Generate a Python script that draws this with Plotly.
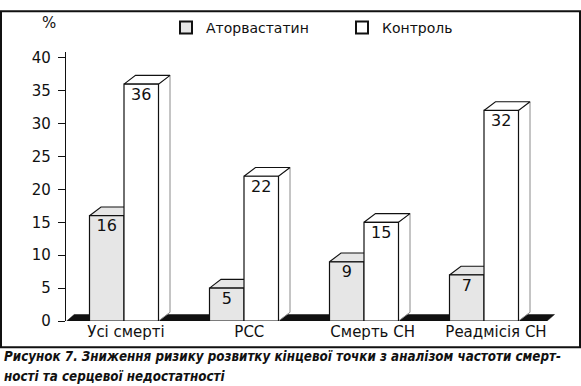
import plotly.graph_objects as go

# ---------------- data ----------------
categories = ["Усі смерті", "РСС", "Смерть СН", "Реадмісія СН"]
atorvastatin = [16, 5, 9, 7]
control = [36, 22, 15, 32]
series_names = ["Аторвастатин", "Контроль"]
y_ticks = [0, 5, 10, 15, 20, 25, 30, 35, 40]
y_label = "%"
caption_lines = [
    "Рисунок 7. Зниження ризику розвитку кінцевої точки з аналізом частоти смерт-",
    "ності та серцевої недостатності",
]

# ---------------- layout / style (pixels) ----------------
W, H = 581, 386
PL, PR, PT, PB = 66, 560, 43, 321          # plot area edges
CAT0_PX, CAT_PX = 124, 120                 # first category centre, spacing
UNIT_PX = 6.8                              # pixels per %
BAR_PX = 34.5                              # bar width
DEPTH_DX_PX, DEPTH_DY_PX = 11.5, 9.0       # bar depth
FLOOR_DX_PX, FLOOR_DY_PX = 7.5, 6.7        # floor depth
FLOOR_END_PX = 547
LABEL_DROP_PX = 12
LAB0_PX, LAB_PX = 126, 123.33              # category label centres

GREY = "#e6e6e6"
WHITE = "#ffffff"
INK = "#111111"
FONT = "DejaVu Sans"

x_range = [(PL - CAT0_PX) / CAT_PX, (PR - CAT0_PX) / CAT_PX]
y_range = [0, (PB - PT) / UNIT_PX]
lab_range = [(PL - LAB0_PX) / LAB_PX, (PR - LAB0_PX) / LAB_PX]

BW = BAR_PX / CAT_PX
DX = DEPTH_DX_PX / CAT_PX
DY = DEPTH_DY_PX / UNIT_PX
FDX = FLOOR_DX_PX / CAT_PX
FDY = FLOOR_DY_PX / UNIT_PX
DROP = LABEL_DROP_PX / UNIT_PX


def px_to_paper_x(px):
    return (px - PL) / (PR - PL)


def px_to_paper_y(py):
    return (PB - py) / (PB - PT)


fig = go.Figure()


def poly(xs, ys, fill, line_color=INK, width=1.1):
    fig.add_trace(go.Scatter(
        x=xs + [xs[0]], y=ys + [ys[0]], mode="lines", fill="toself",
        fillcolor=fill, line=dict(color=line_color, width=width),
        showlegend=False, hoverinfo="skip"))


# floor
fx0 = x_range[0] + 0.7 / CAT_PX
fx1 = (FLOOR_END_PX - CAT0_PX) / CAT_PX
poly([fx0, fx1, fx1 + FDX, fx0 + FDX], [0, 0, FDY, FDY], "#111111", width=0.5)


def bar3d(x0, x1, h, fill):
    # side face
    poly([x1, x1 + DX, x1 + DX, x1], [0, DY, h + DY, h], fill, line_color="#8a8a8a", width=1)
    # top face
    poly([x0, x0 + DX, x1 + DX, x1], [h, h + DY, h + DY, h], fill)
    # front face
    poly([x0, x1, x1, x0], [0, 0, h, h], fill, width=1.2)


for i in range(len(categories)):
    bar3d(i - BW, i, atorvastatin[i], GREY)
    bar3d(i, i + BW, control[i], WHITE)

# value labels
lx, ly, lt = [], [], []
for i in range(len(categories)):
    lx += [i - BW / 2, i + BW / 2]
    ly += [atorvastatin[i] - DROP, control[i] - DROP]
    lt += [str(atorvastatin[i]), str(control[i])]
fig.add_trace(go.Scatter(x=lx, y=ly, text=lt, mode="text",
                         textfont=dict(family=FONT, size=16, color=INK),
                         showlegend=False, hoverinfo="skip"))

# category label axis carrier
fig.add_trace(go.Scatter(x=list(range(len(categories))), y=[0] * len(categories),
                         xaxis="x2", mode="markers", marker=dict(opacity=0),
                         showlegend=False, hoverinfo="skip"))

# legend entries
for name, col in zip(series_names, [GREY, WHITE]):
    fig.add_trace(go.Scatter(x=[None], y=[None], mode="markers", name=name,
                             marker=dict(symbol="square", size=15, color=col,
                                         line=dict(color=INK, width=1))))

fig.update_layout(
    width=W, height=H,
    margin=dict(l=PL, r=W - PR, t=PT, b=H - PB, pad=0),
    paper_bgcolor="white", plot_bgcolor="white",
    font=dict(family=FONT, size=15, color=INK),
    xaxis=dict(range=x_range, showgrid=False, zeroline=False, showline=False,
               showticklabels=False, ticks="", fixedrange=True),
    xaxis2=dict(range=lab_range, overlaying="x", anchor="y", side="bottom",
                tickmode="array", tickvals=list(range(len(categories))),
                ticktext=categories, showgrid=False, zeroline=False,
                showline=False, ticks="", tickfont=dict(family=FONT, size=15, color=INK)),
    yaxis=dict(range=y_range, tickmode="array", tickvals=y_ticks,
               showgrid=False, zeroline=False, showline=True, linecolor=INK,
               linewidth=1.3, ticks="outside", ticklen=7, tickwidth=1.2,
               tickcolor=INK, ticklabelstandoff=4,
               tickfont=dict(family=FONT, size=15, color=INK)),
    legend=dict(orientation="h", x=px_to_paper_x(166), y=px_to_paper_y(18),
                xanchor="left", yanchor="middle", font=dict(family=FONT, size=14, color=INK),
                entrywidth=131, entrywidthmode="pixels", bgcolor="rgba(0,0,0,0)",
                itemsizing="constant"),
    showlegend=True,
)

# "%" label
fig.add_annotation(text=y_label, xref="paper", yref="paper",
                   x=px_to_paper_x(49), y=px_to_paper_y(13), showarrow=False,
                   xanchor="center", yanchor="middle",
                   font=dict(family=FONT, size=15, color=INK))

# frame
fig.add_shape(type="rect", xref="paper", yref="paper",
              x0=px_to_paper_x(1), x1=px_to_paper_x(580),
              y0=px_to_paper_y(348), y1=px_to_paper_y(1),
              line=dict(color=INK, width=2), fillcolor="rgba(0,0,0,0)")

# caption
for k, line in enumerate(caption_lines):
    fig.add_annotation(text=line, xref="paper", yref="paper",
                       x=px_to_paper_x(2), y=px_to_paper_y(358 + 20 * k),
                       xanchor="left", yanchor="middle", showarrow=False,
                       font=dict(family="DejaVu Sans Condensed, DejaVu Sans",
                                 size=13.3, color=INK, weight="bold", style="italic"))

fig.write_html("out.html", config={"displayModeBar": False},
               post_script="document.body.style.margin='0';")
